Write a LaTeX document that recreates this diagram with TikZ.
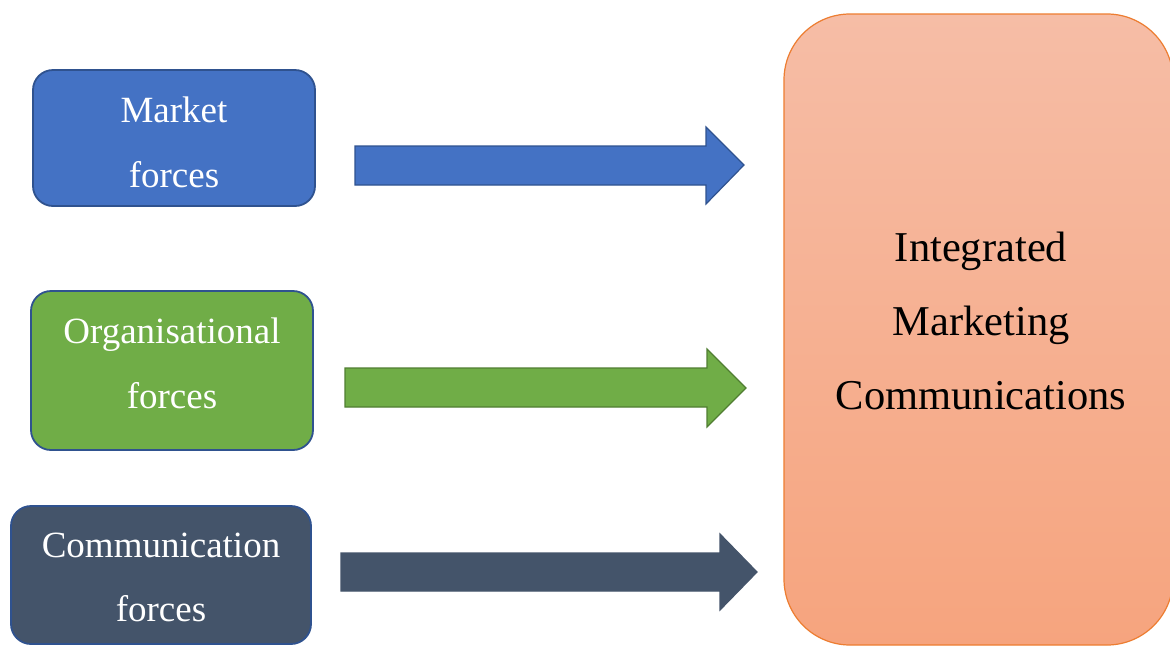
\documentclass[tikz,border=0pt]{standalone}
\usepackage{fontspec}
\setmainfont{Liberation Serif}
\definecolor{mblue}{HTML}{4472C4}
\definecolor{mbluedk}{HTML}{2F528F}
\definecolor{mgreen}{HTML}{70AD47}
\definecolor{mgreendk}{HTML}{507E32}
\definecolor{mslate}{HTML}{44546A}
\definecolor{porange}{HTML}{ED7D31}
\definecolor{ptop}{HTML}{F6BDA6}
\definecolor{pbot}{HTML}{F6A47E}
\begin{document}
\begin{tikzpicture}[x=1pt,y=-1pt,
  forcebox/.style={draw=mbluedk, line width=1.8pt, rounded corners=20pt},
  smalltxt/.style={text=white, font=\fontsize{37}{44}\selectfont, anchor=base, inner sep=0pt},
  bigtxt/.style={text=black, font=\fontsize{42.5}{50}\selectfont, anchor=base, inner sep=0pt},
  blockarrow/.style={line width=1.2pt, line join=miter}]
\useasboundingbox (0,0) rectangle (1170,646);
\fill[white] (0,0) rectangle (1170,646);
% big target box
\shade[top color=ptop, bottom color=pbot, draw=porange, line width=1.2pt, rounded corners=66pt]
  (784,14) rectangle (1173,645);
\node[bigtxt] (imc1) at (981,261) {Integrated};
\node[bigtxt] (imc2) at (981,335) {Marketing};
\node[bigtxt] (imc3) at (981,409) {Communications};
% force boxes
\filldraw[forcebox, fill=mblue] (33,70) rectangle (315,206);
\node[smalltxt] (m1) at (174,122) {Market};
\node[smalltxt] (m2) at (174,187) {forces};
\filldraw[forcebox, fill=mgreen] (31,291) rectangle (313,450);
\node[smalltxt] (o1) at (172,343) {Organisational};
\node[smalltxt] (o2) at (172,408) {forces};
\filldraw[forcebox, fill=mslate] (11,506) rectangle (311,644);
\node[smalltxt] (c1) at (161,557) {Communication};
\node[smalltxt] (c2) at (161,621) {forces};
% block arrows
\filldraw[blockarrow, fill=mblue, draw=mbluedk]
  (355,146) -- (706,146) -- (706,127) -- (744,165) -- (706,204) -- (706,185) -- (355,185) -- cycle;
\filldraw[blockarrow, fill=mgreen, draw=mgreendk]
  (345,368) -- (707,368) -- (707,349) -- (746,388) -- (707,427) -- (707,407) -- (345,407) -- cycle;
\filldraw[blockarrow, fill=mslate, draw=mslate]
  (341,553) -- (720,553) -- (720,534) -- (757,572) -- (720,610) -- (720,591) -- (341,591) -- cycle;
\end{tikzpicture}
\end{document}
